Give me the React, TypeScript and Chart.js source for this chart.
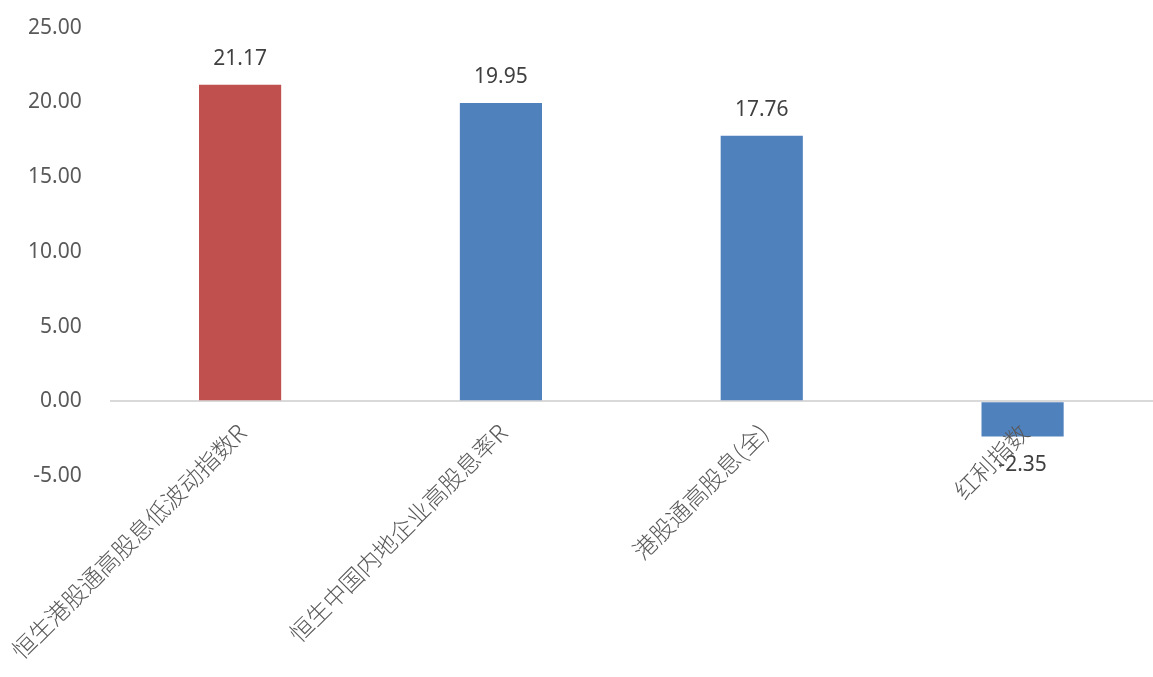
import { useEffect, useRef } from 'react'
import { Chart, registerables, Plugin } from 'chart.js'

Chart.register(...registerables)

const categories = ['恒生港股通高股息低波动指数R', '恒生中国内地企业高股息率R', '港股通高股息(全)', '红利指数']
const values = [21.17, 19.95, 17.76, -2.35]
const barColors = ['#C0504D', '#4F81BD', '#4F81BD', '#4F81BD']
const yTicks = [-5, 0, 5, 10, 15, 20, 25]

// category labels sit under the zero line, rotated 45°, like Excel does
const categoryLabels: Plugin<'bar'> = {
  id: 'categoryLabels',
  afterDraw(chart) {
    const { ctx } = chart
    const xScale = chart.scales.x
    const y0 = chart.scales.y.getPixelForValue(0)
    ctx.save()
    ctx.font = '300 23.5px "Noto Sans CJK SC", sans-serif'
    ctx.fillStyle = '#595959'
    ctx.textAlign = 'right'
    ctx.textBaseline = 'middle'
    categories.forEach((label, i) => {
      ctx.save()
      ctx.translate(xScale.getPixelForValue(i) + 2, y0 + 27)
      ctx.rotate(-Math.PI / 4)
      ctx.fillText(label, 0, 0)
      ctx.restore()
    })
    ctx.restore()
  },
}

const valueLabels: Plugin<'bar'> = {
  id: 'valueLabels',
  afterDatasetsDraw(chart) {
    const { ctx } = chart
    const meta = chart.getDatasetMeta(0)
    ctx.save()
    ctx.font = '21px "Noto Sans", sans-serif'
    ctx.fillStyle = '#404040'
    ctx.textAlign = 'center'
    ctx.textBaseline = 'middle'
    meta.data.forEach((bar, i) => {
      const v = values[i]
      const y = v >= 0 ? bar.y - 26 : bar.y + 29
      ctx.fillText(v.toFixed(2), bar.x, y)
    })
    ctx.restore()
  },
}

export default function App() {
  const canvasRef = useRef<HTMLCanvasElement>(null)
  const chartRef = useRef<Chart>()

  useEffect(() => {
    if (!canvasRef.current) return
    const ctx = canvasRef.current.getContext('2d')
    if (!ctx) return

    chartRef.current = new Chart(ctx, {
      type: 'bar',
      data: {
        labels: categories,
        datasets: [
          {
            data: values,
            backgroundColor: barColors,
            barPercentage: 0.315,
            categoryPercentage: 1,
          },
        ],
      },
      options: {
        animation: false,
        responsive: true,
        maintainAspectRatio: false,
        layout: { padding: { top: 1, right: 0, bottom: 193, left: 0 } },
        plugins: {
          legend: { display: false },
          tooltip: { enabled: false },
        },
        scales: {
          x: {
            offset: true,
            grid: { display: false },
            border: { display: false },
            ticks: { display: false },
          },
          y: {
            min: -5,
            max: 25,
            afterBuildTicks: (scale) => {
              scale.ticks = yTicks.map((value) => ({ value }))
            },
            grid: {
              drawTicks: false,
              lineWidth: 2,
              color: (c) => (c.tick && c.tick.value === 0 ? '#D9D9D9' : 'rgba(0,0,0,0)'),
            },
            border: { display: false },
            ticks: {
              color: '#595959',
              padding: 28,
              font: { family: '"Noto Sans", sans-serif', size: 21 },
              callback: (v) => Number(v).toFixed(2),
            },
          },
        },
      },
      plugins: [valueLabels, categoryLabels],
    })

    return () => {
      chartRef.current?.destroy()
    }
  }, [])

  return (
    <div style={{ position: 'absolute', left: 0, top: -13, width: 1153, height: 690, background: '#fff' }}>
      <canvas ref={canvasRef} />
    </div>
  )
}
